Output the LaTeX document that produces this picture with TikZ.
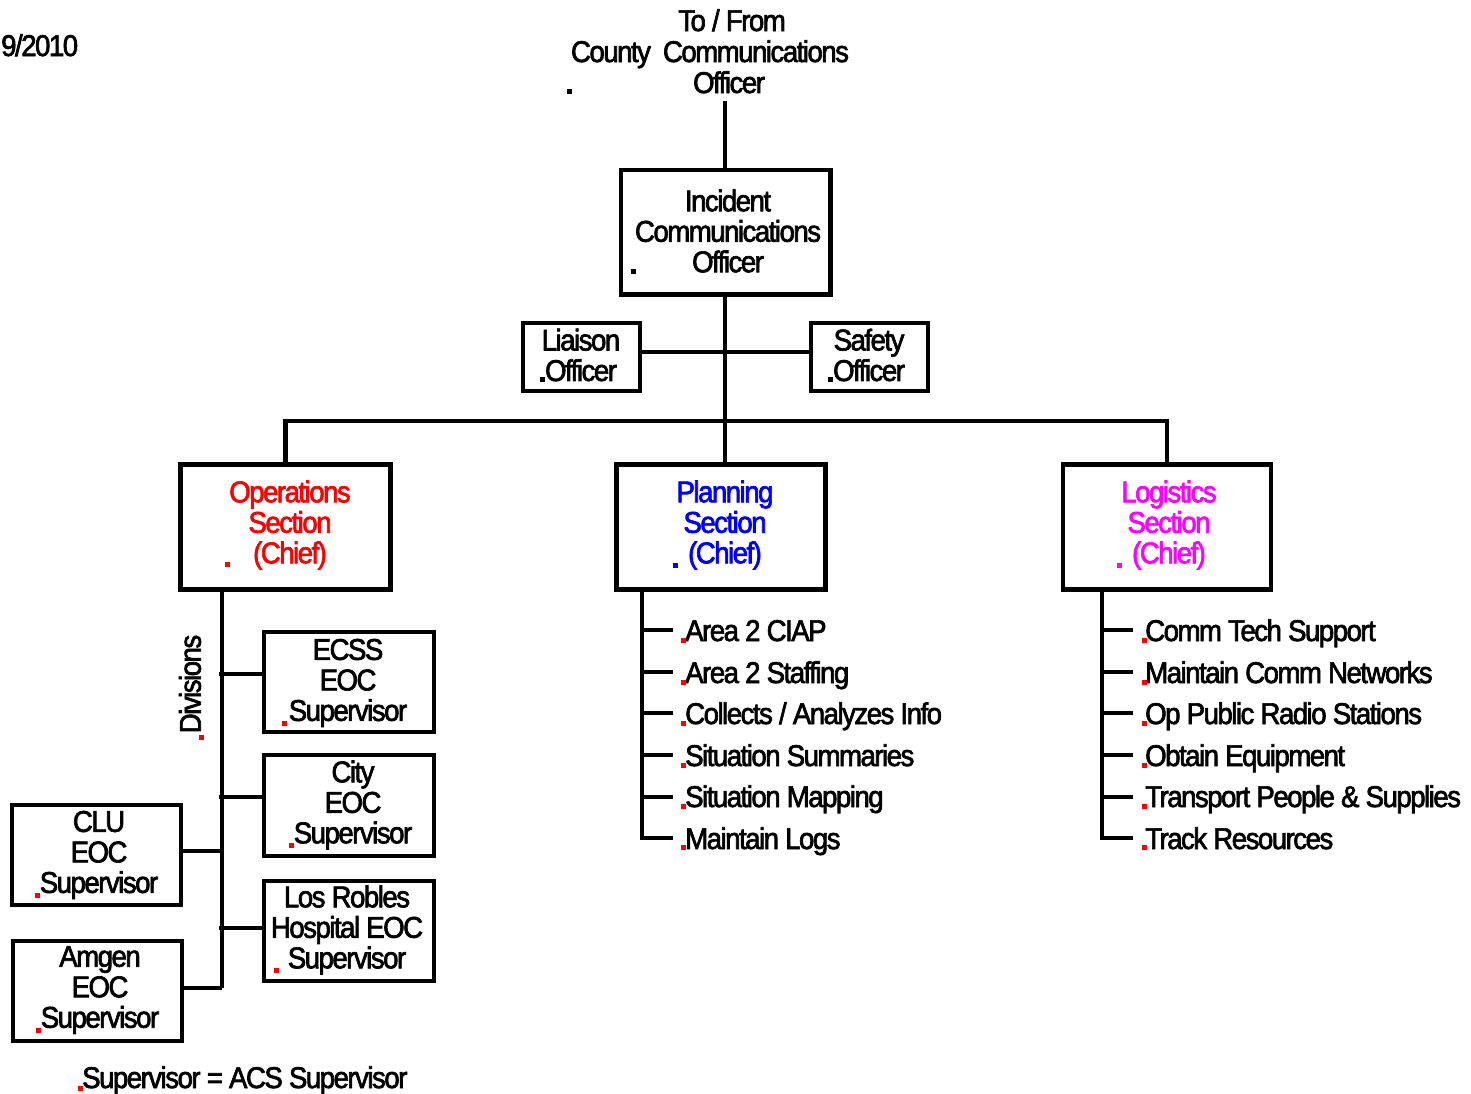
\documentclass[tikz,border=0pt]{standalone}
\usepackage{fontspec}
\setmainfont{Liberation Sans}[FakeStretch=0.92, LetterSpace=-5, FakeBold=2.2]
\definecolor{opsred}{RGB}{255,0,0}
\definecolor{planblue}{RGB}{0,0,255}
\definecolor{logmag}{RGB}{255,0,255}
\tikzset{
  box/.style={draw=black, line width=4.5pt, inner sep=0pt, fill=white},
  conn/.style={draw=black, line width=4.5pt},
  lbl/.style={inner sep=0pt, align=center, font=\fontsize{30}{30.5}\selectfont},
  item/.style={inner sep=0pt, anchor=base west, font=\fontsize{30}{30}\selectfont},
}
\newcommand{\dotmark}[3]{\fill[#1] (#2-2.5,#3-2.5) rectangle ++(5,5);}
\begin{document}
\begin{tikzpicture}[x=1pt,y=-1pt]
\useasboundingbox (0,0) rectangle (1471,1093);

% date and top text
\node[lbl, anchor=base west] (date) at (1,56) {9/2010};
\node[lbl, anchor=base] (top1) at (732,31) {To / From};
\node[lbl, anchor=base] (top2) at (710,62) {County\hspace{12pt}Communications};
\node[lbl, anchor=base] (top3) at (729,93) {Officer};
\coordinate (topc) at (725,101);

% boxes
\node[box, minimum width=209.5pt, minimum height=124.5pt] (ico) at (725.5,232.25) {};
\node[box, minimum width=117pt, minimum height=68pt] (liaison) at (581.5,357) {};
\node[box, minimum width=117pt, minimum height=68pt] (safety) at (869.5,357) {};
\node[box, minimum width=210pt, minimum height=125pt] (ops) at (285.5,527) {};
\node[box, minimum width=209pt, minimum height=125pt] (plan) at (721,527) {};
\node[box, minimum width=208pt, minimum height=125pt] (logi) at (1167,527) {};
\node[box, minimum width=170pt, minimum height=100pt] (ecss) at (349,682) {};
\node[box, minimum width=170pt, minimum height=101pt] (city) at (349,805.5) {};
\node[box, minimum width=170pt, minimum height=100pt] (lr) at (349,931) {};
\node[box, minimum width=169pt, minimum height=100pt] (clu) at (96.5,855) {};
\node[box, minimum width=169pt, minimum height=100pt] (amgen) at (97.5,991) {};

% coordinates for connectors
\coordinate (hub) at (725,421);
\coordinate (mid) at (725,352);
\coordinate (ovtop) at (222,590);
\coordinate (ovbot) at (222,988);
\coordinate (pvtop) at (642,590);
\coordinate (pvbot) at (642,838);
\coordinate (lvtop) at (1102,590);
\coordinate (lvbot) at (1102,838);

% connectors
\draw[conn] (topc) -- (ico.north -| topc);
\draw[conn] (ico.south -| hub) -- (hub);
\draw[conn] (liaison.east |- mid) -- (safety.west |- mid);
\draw[conn] (ops.north) |- (hub) -| (logi.north);
\draw[conn] (hub) -- (hub |- plan.north);

\draw[conn] (ovtop) -- (ovbot);
\draw[conn] (219,674) coordinate (e1) -- (ecss.west |- e1);
\draw[conn] (219,797) coordinate (c1) -- (city.west |- c1);
\draw[conn] (219,928) coordinate (l1) -- (lr.west |- l1);
\draw[conn] (ovtop |- 0,851) coordinate (cl1) -- (clu.east |- cl1);
\draw[conn] (ovbot) -- (amgen.east |- ovbot);

% planning list
\draw[conn] (pvtop) -- (pvbot) -- (673,838) coordinate (pt6);
\foreach \yy/\nm in {630/pt1,672/pt2,713/pt3,755/pt4,797/pt5}{
  \draw[conn] (642,\yy) coordinate (\nm a) -- (673,\yy) coordinate (\nm);
}
% logistics list
\draw[conn] (lvtop) -- (lvbot) -- (1133,838) coordinate (lt6);
\foreach \yy/\nm in {630/lt1,672/lt2,713/lt3,755/lt4,797/lt5}{
  \draw[conn] (1102,\yy) coordinate (\nm a) -- (1133,\yy) coordinate (\nm);
}

% box texts
\node[lbl] (icot) at (728,231) {Incident\\Communications\\Officer};
\node[lbl] (liat) at (581,355) {Liaison\\Officer};
\node[lbl] (saft) at (869,355) {Safety\\Officer};
\node[lbl, text=opsred] (opst) at (290,525) {Operations\\Section\\(Chief)};
\node[lbl, text=planblue] (plant) at (725,525) {Planning\\Section\\(Chief)};
\node[lbl, text=logmag] (logt) at (1169,525) {Logistics\\Section\\(Chief)};
\node[lbl] (ecsst) at (348,683) {ECSS\\EOC\\Supervisor};
\node[lbl] (cityt) at (353,805) {City\\EOC\\Supervisor};
\node[lbl] (lrt) at (347,930) {Los Robles\\Hospital EOC\\Supervisor};
\node[lbl] (clut) at (99,855) {CLU\\EOC\\Supervisor};
\node[lbl] (amgent) at (100,990) {Amgen\\EOC\\Supervisor};
\node[lbl, rotate=90] (divt) at (190,684) {Divisions};
\node[lbl, anchor=base west] (foot) at (82,1088) {Supervisor = ACS Supervisor};

% list texts
\node[item] (p1) at (685,641) {Area 2 CIAP};
\node[item] (p2) at (685,683) {Area 2 Staffing};
\node[item] (p3) at (685,724) {Collects / Analyzes Info};
\node[item] (p4) at (685,766) {Situation Summaries};
\node[item] (p5) at (685,807) {Situation Mapping};
\node[item] (p6) at (685,849) {Maintain Logs};
\node[item] (q1) at (1145,641) {Comm Tech Support};
\node[item] (q2) at (1145,683) {Maintain Comm Networks};
\node[item] (q3) at (1145,724) {Op Public Radio Stations};
\node[item] (q4) at (1145,766) {Obtain Equipment};
\node[item] (q5) at (1145,807) {Transport People \& Supplies};
\node[item] (q6) at (1145,849) {Track Resources};

% small marks
\dotmark{black}{569}{91}
\dotmark{black}{633}{271}
\dotmark{black}{542}{379}
\dotmark{black}{830}{379}
\dotmark{opsred}{227}{564}
\dotmark{planblue}{675}{565}
\dotmark{logmag}{1119}{565}
\dotmark{opsred}{284}{723}
\dotmark{opsred}{291}{845}
\dotmark{opsred}{276}{970}
\dotmark{opsred}{37}{895}
\dotmark{opsred}{38}{1030}
\dotmark{opsred}{201}{737}
\dotmark{opsred}{80}{1088}
\foreach \yy in {640,682,723,765,806,847}{
  \dotmark{opsred}{683}{\yy}
  \dotmark{opsred}{1144}{\yy}
}
\end{tikzpicture}
\end{document}
